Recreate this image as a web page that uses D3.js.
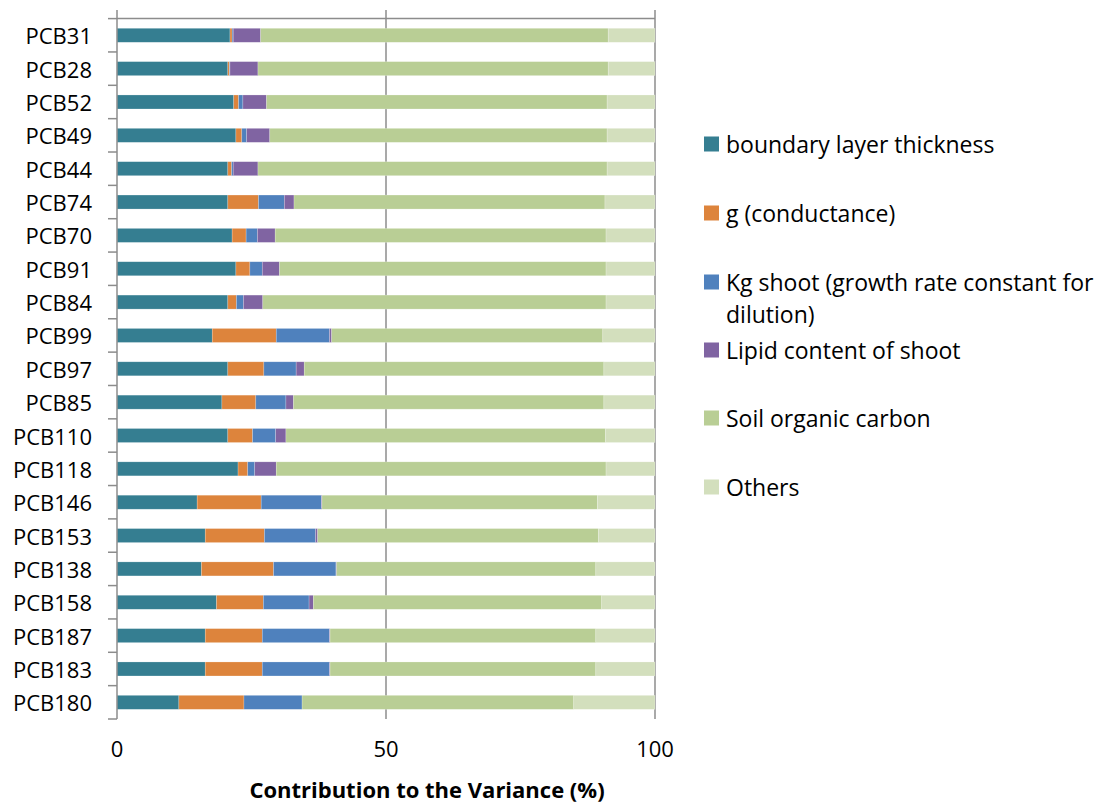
<!DOCTYPE html>
<html>
<head>
<meta charset="utf-8">
<script src="https://cdn.jsdelivr.net/npm/d3@7/dist/d3.min.js"></script>
<style>
  html, body { margin: 0; padding: 0; background: #fff; }
  svg { display: block; }
  text { font-family: "Open Sans", Lato, sans-serif; fill: #000; }
</style>
</head>
<body>
<svg id="chart" width="1105" height="805"></svg>
<script>
// ---- data ----
const categories = ["PCB31","PCB28","PCB52","PCB49","PCB44","PCB74","PCB70","PCB91","PCB84","PCB99","PCB97","PCB85","PCB110","PCB118","PCB146","PCB153","PCB138","PCB158","PCB187","PCB183","PCB180"];
const seriesNames = ["boundary layer thickness","g (conductance)","Kg shoot (growth rate constant for dilution)","Lipid content of shoot","Soil organic carbon","Others"];
const boundaryLayer = [21.0,20.6,21.7,22.1,20.6,20.6,21.4,22.1,20.6,17.7,20.6,19.5,20.6,22.5,14.9,16.4,15.7,18.5,16.4,16.4,11.5];
const conductance   = [0.4,0.3,0.9,1.1,0.7,5.7,2.6,2.6,1.6,11.9,6.7,6.3,4.6,1.8,11.9,11.0,13.4,8.7,10.6,10.6,12.1];
const kgShoot       = [0.2,0.1,0.8,0.9,0.3,4.8,2.1,2.3,1.3,9.9,6.0,5.6,4.3,1.3,11.2,9.5,11.6,8.5,12.5,12.5,10.8];
const lipid         = [5.1,5.2,4.4,4.3,4.6,1.8,3.3,3.2,3.6,0.4,1.5,1.4,1.9,4.0,0.1,0.4,0.1,0.8,0.1,0.1,0.0];
const soilCarbon    = [64.6,65.1,63.3,62.7,64.9,57.8,61.5,60.7,63.8,50.4,55.7,57.7,59.4,61.3,51.2,52.2,48.2,53.6,49.4,49.4,50.5];
const others        = [8.7,8.7,8.9,8.9,8.9,9.3,9.1,9.1,9.1,9.7,9.5,9.5,9.2,9.1,10.7,10.5,11.0,9.9,11.0,11.0,15.1];
const xTicks = [0, 50, 100];
const colors = ["#357e91","#dd843c","#4f81bd","#8064a2","#b9ce95","#d3dfbd"];

const seriesArrays = [boundaryLayer, conductance, kgShoot, lipid, soilCarbon, others];
const keys = ["s0","s1","s2","s3","s4","s5"];
const table = categories.map((c, i) => {
  const row = { cat: c };
  keys.forEach((k, j) => row[k] = seriesArrays[j][i]);
  return row;
});

const svg = d3.select("#chart");
const plotLeft = 117, plotRight = 655, plotTop = 18.6, plotBottom = 719;
const x = d3.scaleLinear().domain([0, 100]).range([plotLeft, plotRight]);
const y = d3.scaleBand().domain(categories).range([plotTop, plotBottom]).padding(0);
const barH = y.bandwidth() * 0.42;

const gridColor = "#8c8c8c";

// vertical gridlines (extend slightly above top as ticks)
svg.append("g").selectAll("line").data(xTicks.filter(d => d !== 0)).join("line")
  .attr("x1", d => x(d)).attr("x2", d => x(d))
  .attr("y1", plotTop - 8.5).attr("y2", plotBottom)
  .attr("stroke", gridColor).attr("stroke-width", 1.5);

// top value axis line
svg.append("line").attr("x1", plotLeft).attr("x2", plotRight).attr("y1", plotTop).attr("y2", plotTop)
  .attr("stroke", gridColor).attr("stroke-width", 1.5);

// stacked bars
const stack = d3.stack().keys(keys);
const stacked = stack(table);
svg.append("g").selectAll("g").data(stacked).join("g")
  .attr("fill", (d, i) => colors[i])
  .selectAll("rect").data(d => d).join("rect")
  .attr("x", d => x(d[0]))
  .attr("width", d => Math.max(0, x(d[1]) - x(d[0])))
  .attr("y", d => y(d.data.cat) + (y.bandwidth() - barH) / 2)
  .attr("height", barH)
  .attr("stroke", "rgba(255,255,255,0.35)")
  .attr("stroke-width", 0.6);

// left category axis line + ticks
svg.append("line").attr("x1", plotLeft).attr("x2", plotLeft).attr("y1", plotTop - 8.5).attr("y2", plotBottom)
  .attr("stroke", gridColor).attr("stroke-width", 1.5);
const bounds = categories.map(c => y(c)).concat([plotBottom]);
svg.append("g").selectAll("line").data(bounds).join("line")
  .attr("x1", plotLeft - 9).attr("x2", plotLeft)
  .attr("y1", d => d).attr("y2", d => d)
  .attr("stroke", gridColor).attr("stroke-width", 1.5);

// category labels
svg.append("g").selectAll("text").data(categories).join("text")
  .attr("x", 92).attr("y", d => y(d) + y.bandwidth() / 2)
  .attr("text-anchor", "end").attr("dominant-baseline", "central")
  .style("font-size", "22px")
  .text(d => d);

// x tick labels
svg.append("g").selectAll("text").data(xTicks).join("text")
  .attr("x", d => x(d)).attr("y", 748)
  .attr("text-anchor", "middle").attr("dominant-baseline", "central")
  .style("font-size", "22px")
  .text(d => d);

// axis title
svg.append("text").attr("x", 427).attr("y", 789)
  .attr("text-anchor", "middle").attr("dominant-baseline", "central")
  .style("font-size", "22px").style("font-weight", "bold")
  .text("Contribution to the Variance (%)");

// legend
const legendY = [144, 213, 282, 350, 418, 487];
const legendLines = [["boundary layer thickness"],["g (conductance)"],["Kg shoot (growth rate constant for","dilution)"],["Lipid content of shoot"],["Soil organic carbon"],["Others"]];
const lg = svg.append("g").selectAll("g").data(seriesNames).join("g")
  .attr("transform", (d, i) => `translate(704,${legendY[i]})`);
lg.append("rect").attr("x", 0).attr("y", -7.5).attr("width", 15).attr("height", 15)
  .attr("fill", (d, i) => colors[i]);
lg.each(function(d, i) {
  const t = d3.select(this).append("text").attr("x", 22).attr("y", 0)
    .attr("dominant-baseline", "central").style("font-size", "23px");
  legendLines[i].forEach((ln, k) => {
    t.append("tspan").attr("x", 22).attr("dy", k === 0 ? 0 : 32).text(ln);
  });
});
</script>
</body>
</html>
